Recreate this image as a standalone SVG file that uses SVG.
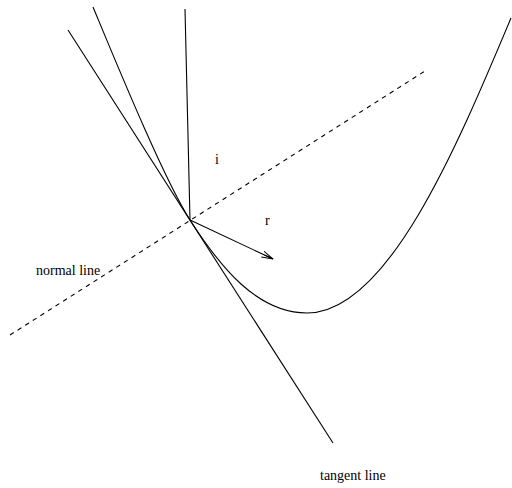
<svg xmlns="http://www.w3.org/2000/svg" width="512" height="488" viewBox="0 0 512 488">
<style>
.ln{fill:none;stroke:#000;stroke-width:1.1}
.dash{fill:none;stroke:#000;stroke-width:1.1;stroke-dasharray:4.5,4.5}
.lbl{font-family:"Liberation Serif","Times New Roman",serif;font-size:14px;fill:#000}
</style>
<defs>
<marker id="arr" viewBox="0 0 12 8" refX="11.5" refY="4" markerWidth="12" markerHeight="8" markerUnits="userSpaceOnUse" orient="auto">
<path d="M0,0.8 L11.5,4 L0,7.2 M11.5,4 L2,4" fill="none" stroke="#000" stroke-width="1"/>
</marker>
</defs>
<rect width="512" height="488" fill="#fff"/>
<g id="curve">
<path class="ln" d="M93,7 C118,67 164.3,180 190,220 C220,266.7 257,313 307,313 C387,313 455.7,150 511,18"/>
</g>
<g id="connectors">
<line id="tangent" class="ln" x1="68" y1="30" x2="333" y2="443"/>
<line id="normal" class="dash" x1="10" y1="335" x2="425" y2="71"/>
<line id="incident" class="ln" x1="185" y1="9" x2="190" y2="220"/>
<line id="reflected" class="ln" x1="190" y1="220" x2="273" y2="259" marker-end="url(#arr)"/>
</g>
<g id="labels">
<text class="lbl" x="215" y="164">i</text>
<text class="lbl" x="265" y="225">r</text>
<text class="lbl" x="36" y="275">normal line</text>
<text class="lbl" x="320" y="480">tangent line</text>
</g>
</svg>
